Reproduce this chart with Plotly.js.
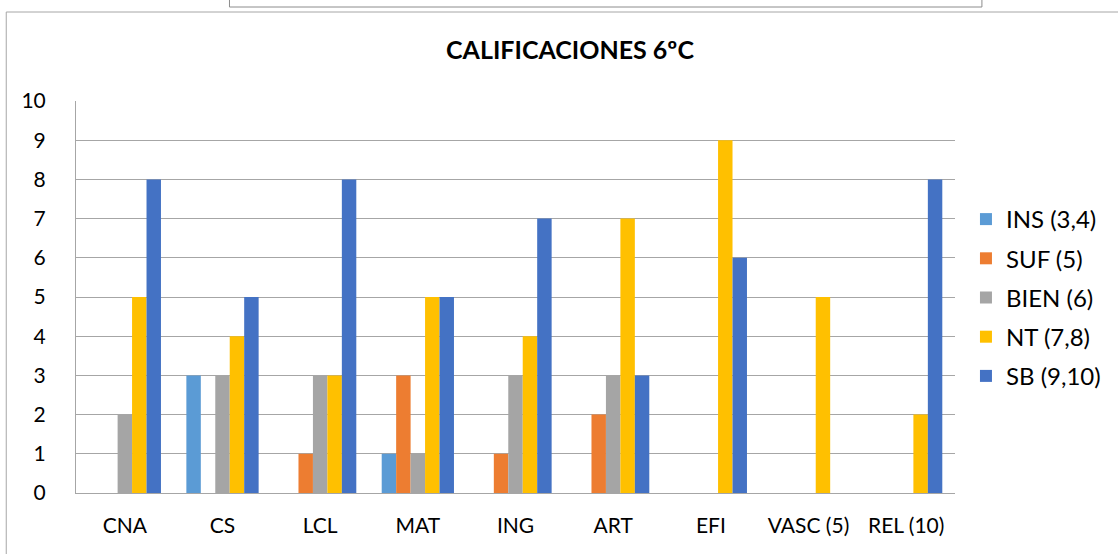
<!DOCTYPE html>
<html><head><meta charset="utf-8">
<script src="https://cdn.plot.ly/plotly-3.0.1.min.js"></script>
<style>html,body{margin:0;padding:0;background:#fff;}#chart{width:1118px;height:554px;}</style>
</head><body><div id="chart"></div>
<script>
const categories = ["CNA","CS","LCL","MAT","ING","ART","EFI","VASC (5)","REL (10)"];
const seriesNames = ["INS (3,4)","SUF (5)","BIEN (6)","NT (7,8)","SB (9,10)"];
const INS  = [0,3,0,1,0,0,0,0,0];
const SUF  = [0,0,1,3,1,2,0,0,0];
const BIEN = [2,3,3,1,3,3,0,0,0];
const NT   = [5,4,3,5,4,7,9,5,2];
const SB   = [8,5,8,5,7,3,6,0,8];
const colors = ["#5B9BD5","#ED7D31","#A5A5A5","#FFC000","#4472C4"];
const values = [INS,SUF,BIEN,NT,SB];

const W=1118,H=554,L=76,R=958,T=101,B=493;
const px = x => (x-L)/(R-L);
const py = y => (B-y)/(B-T);

const traces = values.map((v,i)=>({
  type:'bar', x:categories, y:v, name:seriesNames[i],
  marker:{color:colors[i], line:{width:0}}, legendgroup:'g'+i
}));

const layout = {
  width:W, height:H,
  margin:{l:L, r:W-R, t:T, b:H-B, pad:0},
  paper_bgcolor:'#fff', plot_bgcolor:'#fff',
  font:{family:'Lato, "Open Sans", sans-serif', size:21, color:'#000'},
  title:{text:'<b>CALIFICACIONES 6ºC</b>', font:{size:25, color:'#000'}, xref:'container', x:570/1118, xanchor:'center', yref:'container', y:1-50/554, yanchor:'middle'},
  barmode:'group', bargap:0.26, bargroupgap:0,
  xaxis:{type:'category', showgrid:false, showline:true, linecolor:'#a6a6a6', linewidth:1, ticks:'', tickfont:{size:21}, ticklabelstandoff:14, fixedrange:true},
  yaxis:{range:[0,10], dtick:1, showgrid:true, gridcolor:'#a6a6a6', gridwidth:1, zeroline:false, showline:true, linecolor:'#a6a6a6', ticks:'', tickfont:{size:21}, ticklabelstandoff:25},
  legend:{x:px(969), xanchor:'left', y:py(197), yanchor:'top', font:{size:24}, traceorder:'grouped', tracegroupgap:5, itemwidth:30, bgcolor:'rgba(0,0,0,0)'},
  shapes:[
    {type:'rect', xref:'paper', yref:'paper', x0:px(6), x1:px(1125), y0:py(560), y1:py(12), line:{color:'#a6a6a6', width:1}, fillcolor:'rgba(0,0,0,0)', layer:'below'},
    {type:'rect', xref:'paper', yref:'paper', x0:px(230), x1:px(985), y0:py(7), y1:py(-10), line:{color:'#8c8c8c', width:1}, fillcolor:'rgba(0,0,0,0)', layer:'below'}
  ]
};
Plotly.newPlot('chart', traces, layout, {displayModeBar:false, staticPlot:true});
</script></body></html>
